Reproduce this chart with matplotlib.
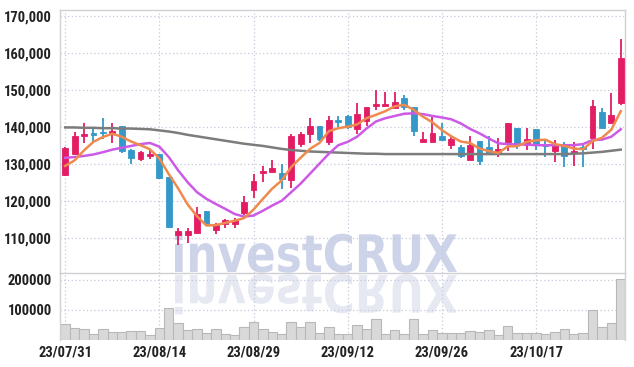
import numpy as np
import matplotlib
matplotlib.use('Agg')
import matplotlib.pyplot as plt
from matplotlib import font_manager
from matplotlib.textpath import TextPath
from matplotlib.patches import PathPatch
from matplotlib.font_manager import FontProperties
from matplotlib.transforms import Affine2D

# daily candles, 23/07/31 .. 23/10/30
opens = [127000, 132700, 137500, 138000, 138700, 138100, 140100, 133600, 131300, 132000,
         132500, 126300, 110800, 110800, 111400, 117200, 112200, 113800, 113800, 116800,
         123000, 127500, 127800, 127600, 125500, 135400, 137900, 140100, 135900, 141800,
         142900, 139300, 141600, 145600, 145500, 145000, 147700, 145300, 135900, 135800,
         137500, 135100, 134500, 131000, 136100, 134500, 133100, 135900, 139600, 135000,
         139500, 135300, 133500, 135300, 132800, 134500, 137000, 144100, 141100, 146300]
highs = [134600, 138600, 141100, 139800, 142300, 140900, 140200, 134100, 133400, 134000,
         132600, 126300, 112700, 112700, 118200, 117200, 114100, 115000, 115300, 121400,
         127100, 129500, 131100, 130000, 138000, 138600, 142300, 140100, 142900, 142900,
         143200, 146500, 145300, 150000, 149300, 149500, 148500, 145300, 138600, 142900,
         140900, 137500, 135000, 137400, 136100, 137500, 137000, 141100, 139600, 139600,
         139500, 136400, 136400, 135900, 135900, 135000, 147200, 145000, 149000, 163600]
lows = [126800, 132500, 135600, 135600, 136800, 135500, 132900, 130000, 130700, 131400,
        126000, 112700, 108000, 108500, 111300, 113200, 110900, 112700, 112700, 116200,
        120700, 125000, 127800, 123200, 123300, 134500, 135500, 136200, 135000, 140000,
        139500, 138000, 140300, 144400, 145500, 145000, 144500, 137500, 135900, 135800,
        136400, 134000, 131500, 131000, 129600, 132700, 131800, 133500, 134100, 133700,
        133700, 131800, 130500, 129100, 129400, 129100, 134100, 139700, 140900, 145800]
closes = [134300, 137600, 138000, 137800, 138200, 138800, 133500, 131500, 133100, 132600,
          126100, 112900, 111800, 111800, 116300, 113800, 113400, 114700, 114800, 119700,
          125400, 127900, 128800, 125800, 137500, 137900, 140100, 136800, 141800, 141200,
          140000, 143400, 145300, 146200, 145900, 146800, 145300, 138900, 136700, 138200,
          136400, 136600, 132000, 135000, 130700, 132900, 133900, 141000, 135000, 136600,
          135000, 134800, 135300, 132100, 133400, 134000, 145600, 139700, 143200, 158500]
volumes = [52300, 39000, 35600, 20000, 35600, 25600, 25600, 29000, 29000, 16700,
           39000, 105600, 55600, 32200, 35600, 22200, 35600, 18900, 15600, 42200,
           61100, 36700, 25600, 18900, 61100, 42200, 61100, 22200, 44400, 18900,
           20000, 50000, 36700, 68900, 20000, 33300, 20000, 68900, 20000, 32200,
           22200, 22200, 22200, 28900, 25600, 32200, 15600, 45600, 22200, 22200,
           22200, 18900, 25600, 35600, 18900, 22200, 98900, 42200, 55600, 202200]

# moving averages
ma5 = [129400, 130900, 133600, 135900, 137200, 138100, 137300, 136000, 135000, 133900,
       131400, 127200, 123300, 119000, 115800, 113300, 113400, 114000, 114600, 115300,
       117600, 120500, 123300, 125500, 129100, 131600, 134000, 135600, 138800, 139600,
       140000, 140600, 142300, 143200, 144200, 145500, 145900, 144600, 142700, 141200,
       139100, 137400, 136000, 135600, 134100, 133400, 132900, 134700, 134700, 135900,
       136300, 136500, 135300, 134800, 134100, 133900, 136100, 137000, 139200, 144200]
ma20 = [131600, 131800, 132100, 132500, 133100, 133800, 134300, 134800, 135300, 135600,
        134600, 131800, 128200, 125000, 122300, 120500, 119100, 117800, 116400, 115700,
        116000, 117300, 118700, 120000, 122300, 124600, 127300, 130000, 132700, 135000,
        135900, 137300, 139500, 141400, 142300, 142900, 143500, 143600, 143400, 142900,
        142500, 142000, 140900, 139400, 138200, 136800, 135500, 135300, 135200, 135200,
        135000, 135000, 135000, 135000, 135000, 135300, 136400, 136500, 137300, 139300]
ma60 = [139800, 139800, 139700, 139700, 139600, 139600, 139500, 139500, 139400, 139300,
        139000, 138700, 138300, 137800, 137400, 137000, 136600, 136200, 135800, 135400,
        135100, 134800, 134400, 134000, 133700, 133500, 133300, 133200, 133100, 133000,
        132900, 132800, 132700, 132700, 132600, 132600, 132600, 132600, 132600, 132600,
        132600, 132600, 132600, 132600, 132600, 132600, 132600, 132600, 132600, 132600,
        132600, 132600, 132600, 132600, 132700, 132800, 133000, 133200, 133500, 133800]

tick_idx = [0, 10, 20, 30, 40, 50]
tick_labels = ['23/07/31', '23/08/14', '23/08/29', '23/09/12', '23/09/26', '23/10/17']
price_ticks = [110000, 120000, 130000, 140000, 150000, 160000, 170000]
vol_ticks = [100000, 200000]

up_col = '#e31c64'
down_col = '#3498c8'
grid_col = '#c5c9dc'

# pick a narrow face if one is there, otherwise shrink DejaVu
names = {f.name for f in font_manager.fontManager.ttflist}
lab_family, lab_size = 'DejaVu Sans', 8.6
for cand in ['Liberation Sans Narrow', 'Roboto Condensed', 'DejaVu Sans Condensed', 'Open Sans Condensed']:
    if cand in names:
        lab_family, lab_size = cand, 10.5
        break
lab_font = FontProperties(family=lab_family, size=lab_size, weight='semibold')

fig = plt.figure(figsize=(6.34, 3.67), dpi=100)
fig.patch.set_facecolor('white')

W, H = 634.0, 367.0
ax = fig.add_axes([60 / W, 1 - 273 / H, 565 / W, 263 / H])
axv = fig.add_axes([60 / W, 1 - 340 / H, 565 / W, 67 / H], sharex=ax)
for a in (ax, axv):
    a.set_facecolor('none')
    for s in a.spines.values():
        s.set_color('#d0d0d6')
        s.set_linewidth(1)
    a.tick_params(length=0, colors='#222222', pad=6)
    a.grid(True, color=grid_col, linestyle=(0, (1, 2)), linewidth=0.9)
    a.set_axisbelow(True)
axv.spines['bottom'].set_visible(False)
axv.spines['top'].set_visible(False)

x = np.arange(len(opens))
o = np.array(opens); c = np.array(closes)
cols = [up_col if cc >= oo else down_col for oo, cc in zip(o, c)]
bottoms = np.minimum(o, c)
heights = np.maximum(np.abs(c - o), 500)

ax.vlines(x, lows, highs, colors=cols, linewidth=1.3, zorder=2)
ax.bar(x, heights, bottom=bottoms, width=0.62, color=cols,
       edgecolor=cols, linewidth=0.6, zorder=3)

ax.plot(x, ma60, color='#7c7c7c', linewidth=1.8, zorder=4)
ax.plot(x, ma20, color='#cc5ae6', linewidth=1.8, zorder=4)
ax.plot(x, ma5, color='#ef8a4f', linewidth=1.8, zorder=4)

ax.set_ylim(100460, 171540)
ax.set_yticks(price_ticks)
ax.set_yticklabels([f'{p:,}' for p in price_ticks], fontproperties=lab_font)
ax.set_xlim(-0.55, 59.45)
ax.set_xticks(tick_idx)
plt.setp(ax.get_xticklabels(), visible=False)

axv.bar(x, volumes, width=1.0, color='#d9d9d9', edgecolor='#b8b8b8', linewidth=0.8, zorder=2)
axv.set_ylim(0, 223300)
axv.set_yticks(vol_ticks)
axv.set_yticklabels([str(v) for v in vol_ticks], fontproperties=lab_font)
axv.set_xticks(tick_idx)
axv.set_xticklabels(tick_labels, fontproperties=lab_font)
axv.tick_params(axis='x', pad=4)

# watermark with reflection
fp = FontProperties(family='DejaVu Sans', weight='bold')
tp = TextPath((0, 0), 'investCRUX', size=1, prop=fp)
bb = tp.get_extents()
sx = 2.82 / bb.width
sy = 0.40 / bb.height
x0, base = 1.75, (H - 272) / 100.0
tr = Affine2D().translate(-bb.x0, 0).scale(sx, sy).translate(x0, base) + fig.dpi_scale_trans
fig.add_artist(PathPatch(tp, transform=tr, facecolor='#cdd3e8', edgecolor='none', zorder=-1))
tr2 = Affine2D().translate(-bb.x0, 0).scale(sx, -sy).translate(x0, base - 0.03) + fig.dpi_scale_trans
fig.add_artist(PathPatch(tp, transform=tr2, facecolor='#e7e9f2', edgecolor='none', zorder=-1))

fig.savefig('out.png', dpi=100)
